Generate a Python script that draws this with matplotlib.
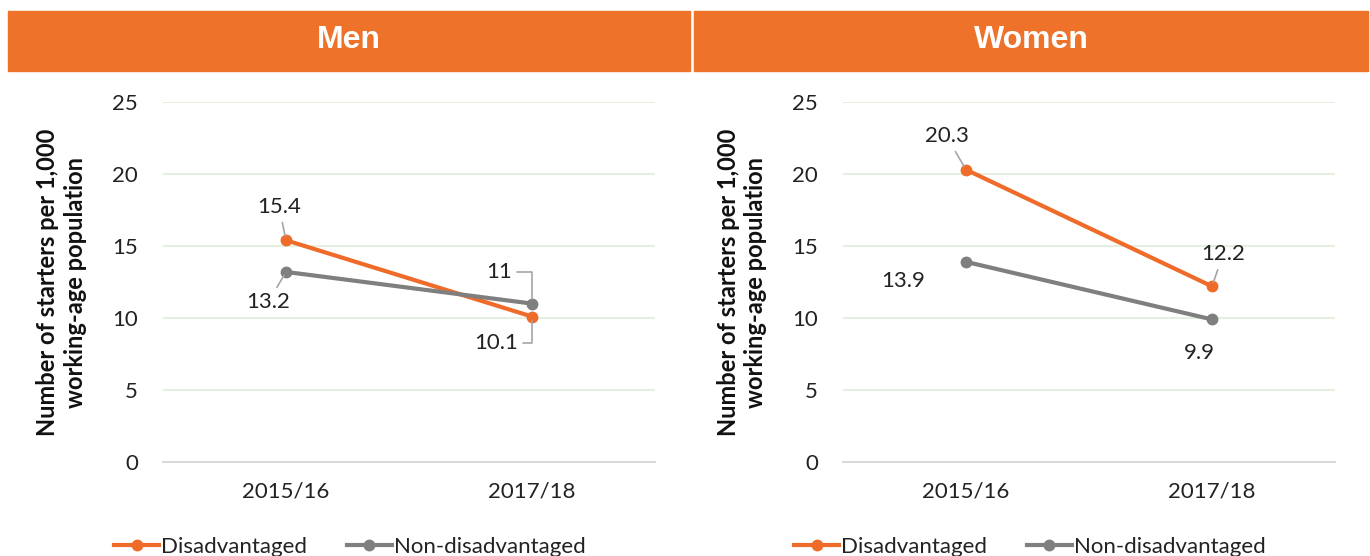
import numpy as np
import matplotlib.pyplot as plt
from matplotlib.patches import Rectangle

years = ['2015/16', '2017/18']
men_dis = [15.4, 10.1]
men_non = [13.2, 11.0]
women_dis = [20.3, 12.2]
women_non = [13.9, 9.9]
men_lbl_dis = ['15.4', '10.1']
men_lbl_non = ['13.2', '11']
women_lbl_dis = ['20.3', '12.2']
women_lbl_non = ['13.9', '9.9']

orange = '#EE6B2A'
grey = '#7F7F7F'
hdr = '#EE7229'
font = ['Lato', 'DejaVu Sans']

plt.rcParams['font.family'] = font

fig = plt.figure(figsize=(13.7, 5.56), dpi=100)
W, H = 1370, 556

def px(x0, y0, x1, y1):
    return [x0 / W, 1 - y1 / H, (x1 - x0) / W, (y1 - y0) / H]

# orange header bars
for (x0, x1, title) in [(8, 690, 'Men'), (694, 1368, 'Women')]:
    fig.patches.append(Rectangle(((x0) / W, 1 - 71 / H), (x1 - x0) / W, 60 / H,
                                 transform=fig.transFigure, color=hdr, zorder=0))
    fig.text((x0 + x1) / 2 / W, 1 - 40 / H, title, color='white', fontsize=23,
             fontweight='bold', family='Liberation Sans', ha='center', va='center')

def panel(rect, dis, non, ldis, lnon, women):
    ax = fig.add_axes(rect)
    x = np.arange(len(years)) + 0.5
    ax.plot(x, dis, color=orange, lw=3, marker='o', ms=7.5, label='Disadvantaged', zorder=3)
    ax.plot(x, non, color=grey, lw=3, marker='o', ms=7.5, label='Non-disadvantaged', zorder=3)
    ax.set_xlim(0, 2)
    ax.set_ylim(0, 25)
    ax.set_yticks(range(0, 26, 5))
    ax.set_xticks(x)
    ax.set_xticklabels(years)
    ax.tick_params(length=0, labelsize=16, pad=18, colors='#222222')
    ax.tick_params(axis='x', pad=14)
    ax.grid(axis='y', color='#E2EFDA', lw=1.3)
    ax.set_axisbelow(True)
    for s in ['top', 'right', 'left']:
        ax.spines[s].set_visible(False)
    ax.spines['bottom'].set_color('#D9D9D9')
    ax.spines['bottom'].set_linewidth(1.5)
    ax.set_ylabel('Number of starters per 1,000\nworking-age population', fontsize=17,
                  fontweight='bold', labelpad=18, linespacing=1.25, color='#111111')
    lp = dict(arrowstyle='-', color='#A6A6A6', lw=1.2, shrinkA=2, shrinkB=3)
    elbow = dict(lp, connectionstyle='angle,angleA=0,angleB=90,rad=0')
    kw = dict(fontsize=16, color='#222222', ha='center', va='center')
    if not women:
        ax.annotate(ldis[0], (x[0], dis[0]), xytext=(-5, 24), textcoords='offset points',
                    arrowprops=lp, **kw)
        ax.annotate(lnon[0], (x[0], non[0]), xytext=(-13, -22), textcoords='offset points',
                    arrowprops=lp, **kw)
        ax.annotate(lnon[1], (x[1], non[1]), xytext=(-24, 23), textcoords='offset points',
                    arrowprops=elbow, **kw)
        ax.annotate(ldis[1], (x[1], dis[1]), xytext=(-26, -19), textcoords='offset points',
                    arrowprops=elbow, **kw)
    else:
        ax.annotate(ldis[0], (x[0], dis[0]), xytext=(-14, 24), textcoords='offset points',
                    arrowprops=lp, **kw)
        ax.annotate(lnon[0], (x[0], non[0]), xytext=(-45, -14), textcoords='offset points', **kw)
        ax.annotate(ldis[1], (x[1], dis[1]), xytext=(8, 23), textcoords='offset points',
                    arrowprops=lp, **kw)
        ax.annotate(lnon[1], (x[1], non[1]), xytext=(-9, -24), textcoords='offset points', **kw)
    ax.legend(loc='center', bbox_to_anchor=(0.38, -0.235), ncol=2, frameon=False,
              fontsize=16, handlelength=2.0, handletextpad=0.1, columnspacing=1.8,
              labelcolor='#222222')
    return ax

panel(px(163, 102, 655, 462), men_dis, men_non, men_lbl_dis, men_lbl_non, False)
panel(px(843, 102, 1335, 462), women_dis, women_non, women_lbl_dis, women_lbl_non, True)

fig.savefig('out.png', dpi=100)
